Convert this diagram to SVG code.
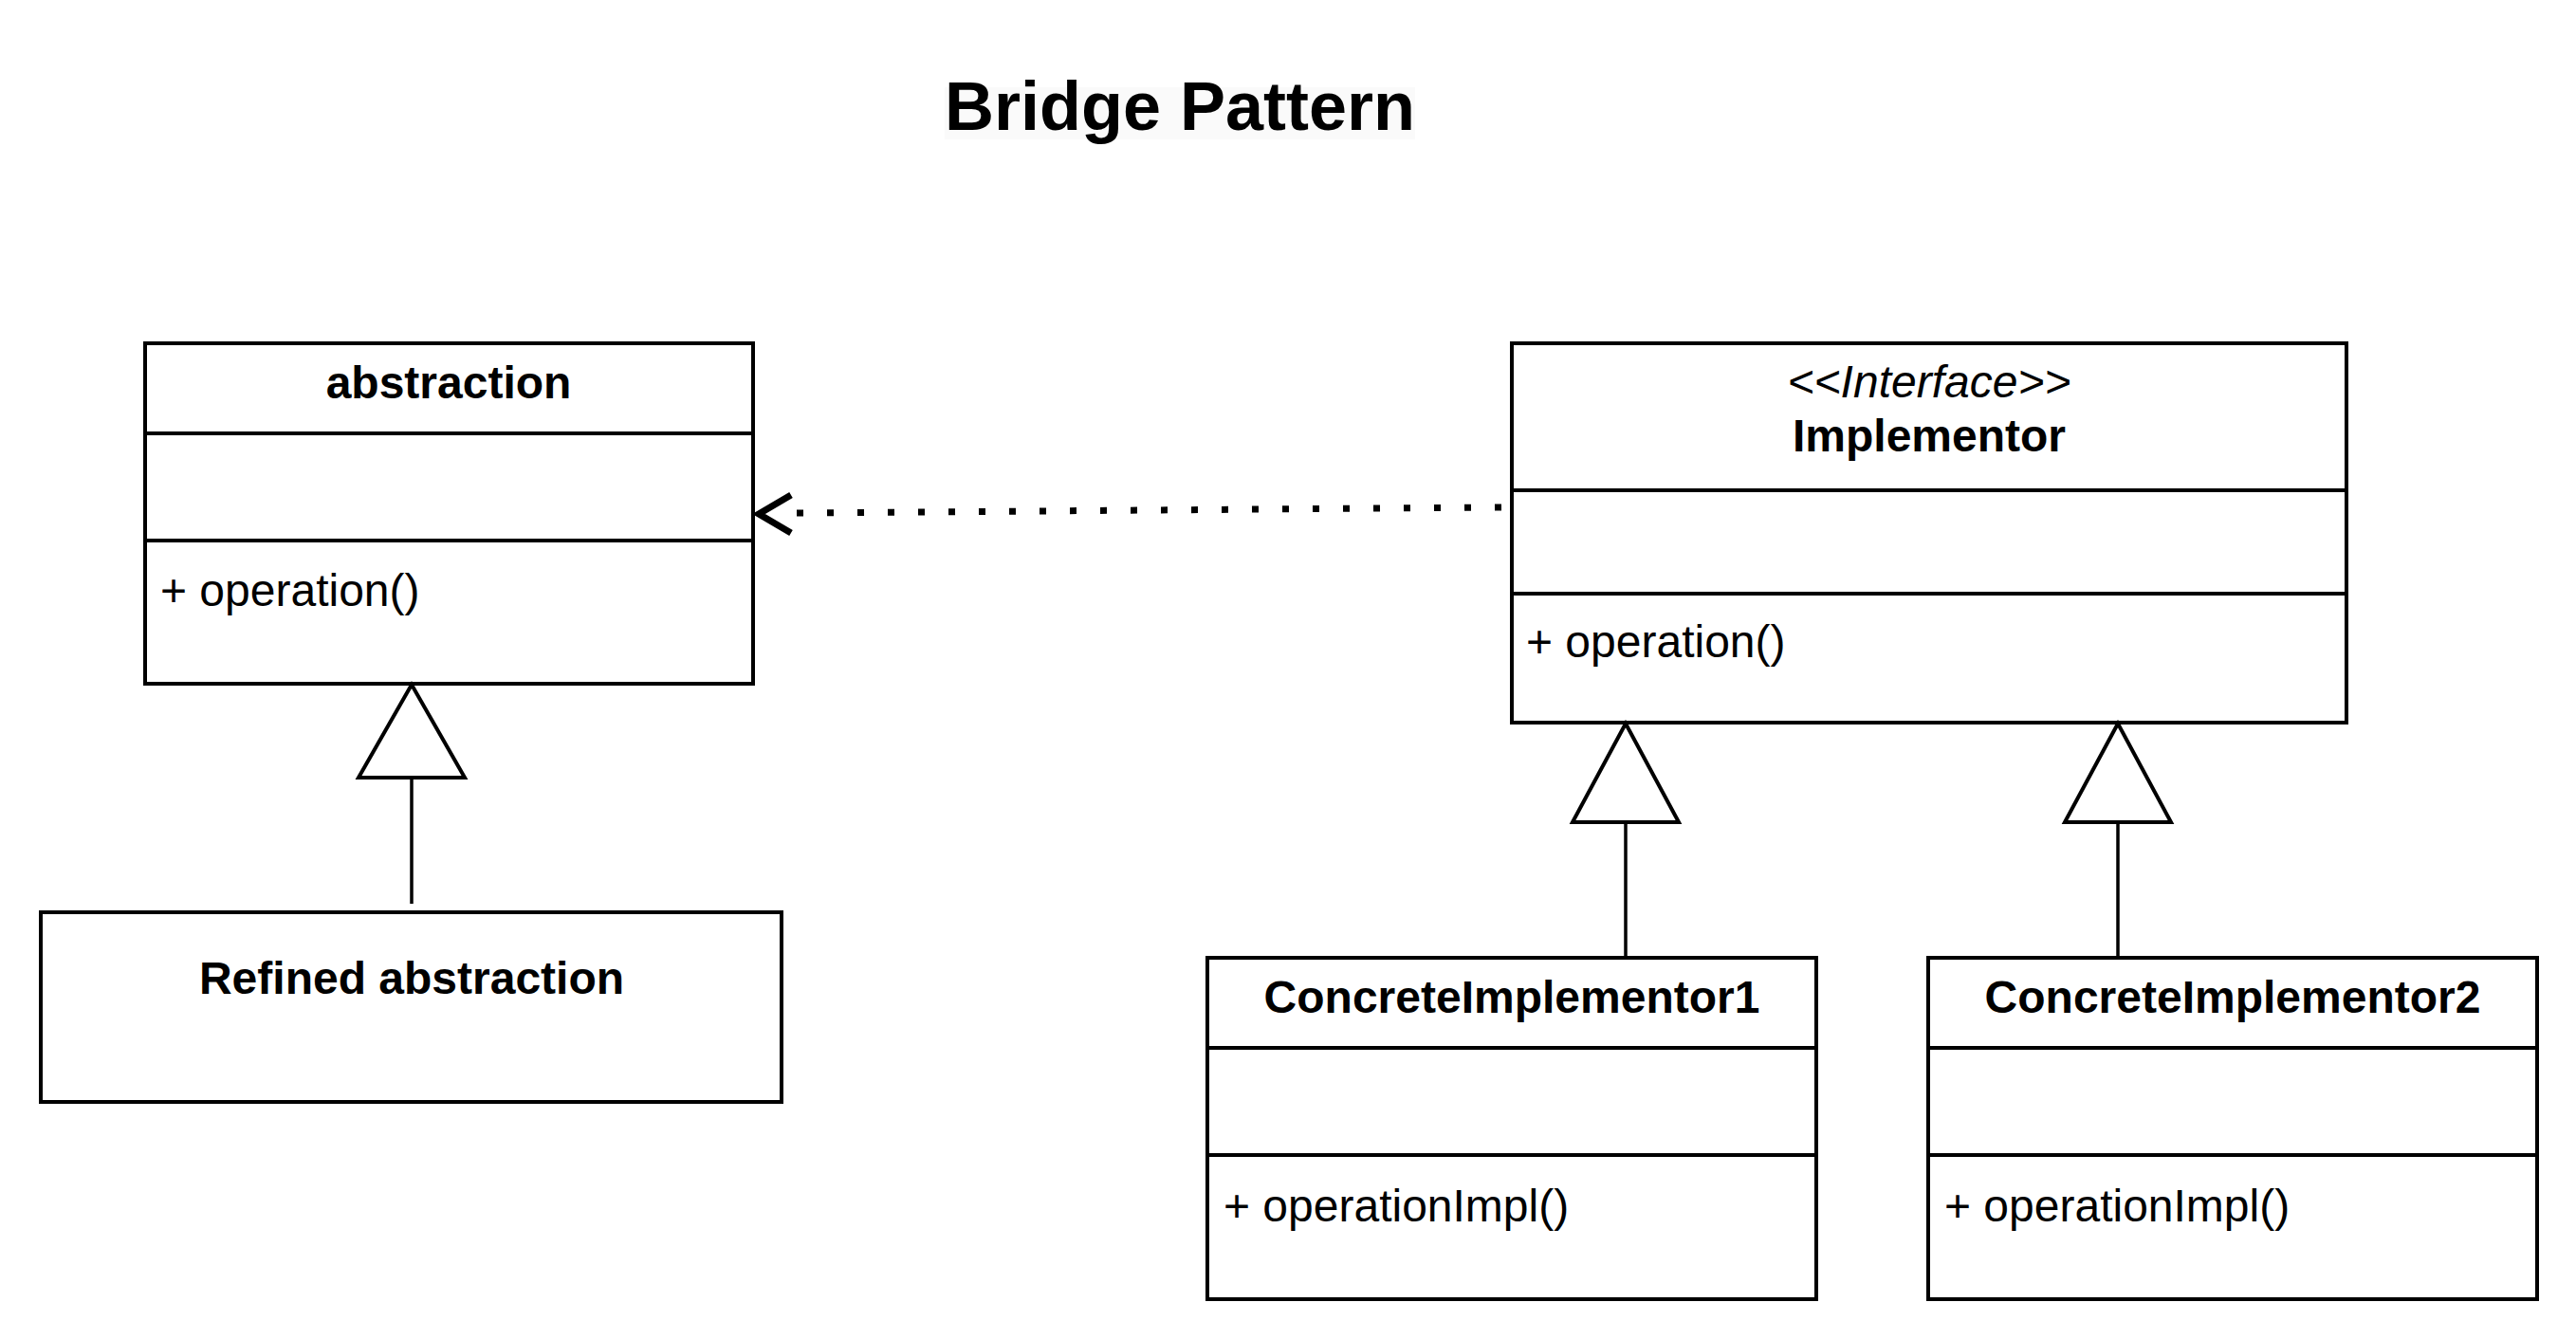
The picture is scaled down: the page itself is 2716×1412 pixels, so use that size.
<svg xmlns="http://www.w3.org/2000/svg" width="2716" height="1412" viewBox="0 0 2716 1412">
<style>
  .box{fill:#ffffff;stroke:#000000;stroke-width:4}
  .sep{stroke:#000000;stroke-width:4;fill:none}
  .name{font-family:"Liberation Sans",Arial,Helvetica,sans-serif;font-size:48px;font-weight:bold;text-anchor:middle;fill:#000}
  .stereo{font-family:"Liberation Sans",Arial,Helvetica,sans-serif;font-size:48px;font-style:italic;text-anchor:middle;fill:#000}
  .member{font-family:"Liberation Sans",Arial,Helvetica,sans-serif;font-size:48px;fill:#000}
  .title{font-family:"Liberation Sans",Arial,Helvetica,sans-serif;font-size:72px;font-weight:bold;text-anchor:middle;fill:#000}
  .edge{stroke:#000;stroke-width:3.5;fill:none}
  .tri{fill:#ffffff;stroke:#000;stroke-width:4;stroke-linejoin:miter}
</style>
<rect width="2716" height="1412" fill="#ffffff"/>
<g id="title">
  <rect x="996" y="92" width="496" height="55" fill="#fafafa"/>
  <text class="title" x="1244" y="137">Bridge Pattern</text>
</g>
<g id="abstraction">
  <rect class="box" x="153" y="362" width="641" height="359"/>
  <line class="sep" x1="153" y1="457" x2="794" y2="457"/>
  <line class="sep" x1="153" y1="570" x2="794" y2="570"/>
  <text class="name" x="473" y="420">abstraction</text>
  <text class="member" x="169" y="639">+ operation()</text>
</g>
<g id="refined-abstraction">
  <rect class="box" x="43" y="962" width="781" height="200"/>
  <text class="name" x="434" y="1048">Refined abstraction</text>
</g>
<g id="implementor">
  <rect class="box" x="1594" y="362" width="880" height="400"/>
  <line class="sep" x1="1594" y1="517" x2="2474" y2="517"/>
  <line class="sep" x1="1594" y1="626" x2="2474" y2="626"/>
  <text class="stereo" x="2034" y="419">&lt;&lt;Interface&gt;&gt;</text>
  <text class="name" x="2034" y="476">Implementor</text>
  <text class="member" x="1609" y="693">+ operation()</text>
</g>
<g id="concrete-implementor-1">
  <rect class="box" x="1273" y="1010" width="642" height="360"/>
  <line class="sep" x1="1273" y1="1105" x2="1915" y2="1105"/>
  <line class="sep" x1="1273" y1="1218" x2="1915" y2="1218"/>
  <text class="name" x="1594" y="1068">ConcreteImplementor1</text>
  <text class="member" x="1290" y="1288">+ operationImpl()</text>
</g>
<g id="concrete-implementor-2">
  <rect class="box" x="2033" y="1010" width="642" height="360"/>
  <line class="sep" x1="2033" y1="1105" x2="2675" y2="1105"/>
  <line class="sep" x1="2033" y1="1218" x2="2675" y2="1218"/>
  <text class="name" x="2354" y="1068">ConcreteImplementor2</text>
  <text class="member" x="2050" y="1288">+ operationImpl()</text>
</g>
<g id="connectors">
  <!-- dependency: Implementor -> abstraction -->
  <line x1="1583" y1="535" x2="840" y2="541" stroke="#000" stroke-width="7" stroke-dasharray="7 25"/>
  <polyline points="834,522 800,542 834,562" fill="none" stroke="#000" stroke-width="7" stroke-linejoin="miter"/>
  <!-- generalization: Refined abstraction -> abstraction -->
  <line class="edge" x1="434" y1="820" x2="434" y2="953"/>
  <polygon class="tri" points="434,722 378,820 490,820"/>
  <!-- generalization: ConcreteImplementor1 -> Implementor -->
  <line class="edge" x1="1714" y1="867" x2="1714" y2="1010"/>
  <polygon class="tri" points="1714,763 1658,867 1770,867"/>
  <!-- generalization: ConcreteImplementor2 -> Implementor -->
  <line class="edge" x1="2233" y1="867" x2="2233" y2="1010"/>
  <polygon class="tri" points="2233,763 2177,867 2289,867"/>
</g>
</svg>
